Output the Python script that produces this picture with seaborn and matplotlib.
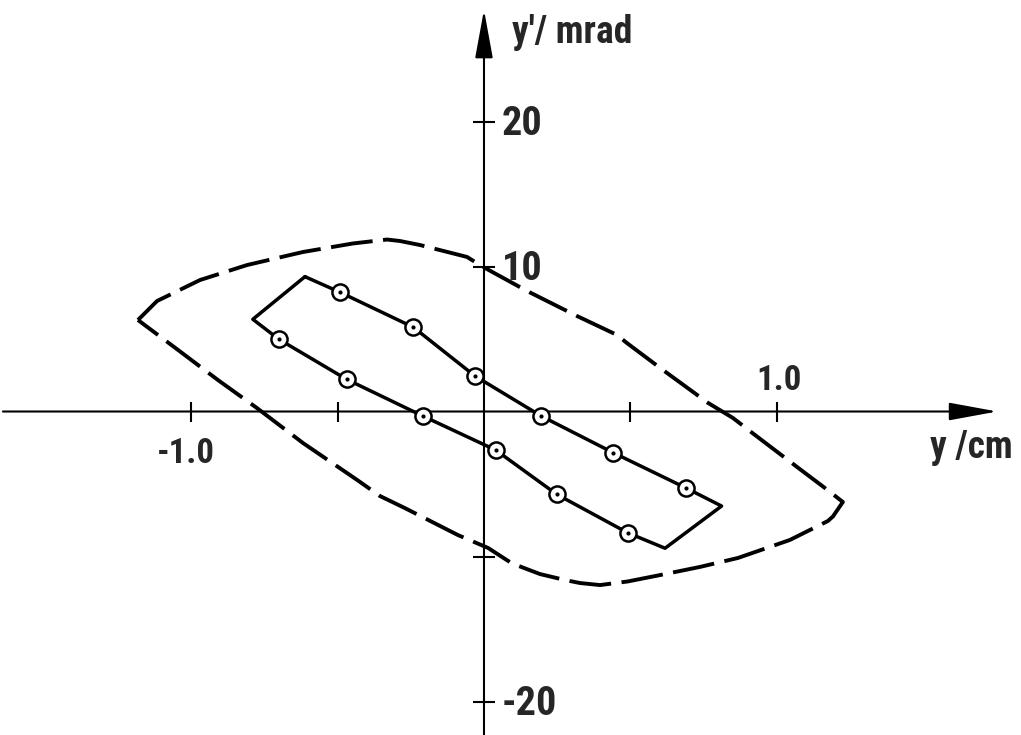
import matplotlib
matplotlib.use("Agg")
import matplotlib.pyplot as plt
from matplotlib import font_manager
import pandas as pd
import seaborn as sns

# Acceptance boundary (dashed closed curve): position y in cm, angle y' in mrad
boundary_y = [-1.181, -1.116, -0.969, -0.809, -0.618, -0.447, -0.331, -0.287,
              -0.218, -0.058, -0.003, 0.147, 0.317, 0.454, 0.488, 0.611,
              0.765, 0.850, 0.925, 1.078, 1.164, 1.225, 1.191, 1.174,
              1.044, 0.867, 0.737, 0.601, 0.491, 0.396, 0.328, 0.276,
              0.191, 0.096, 0.072, 0.014, -0.089, -0.270, -0.355, -0.433,
              -0.618, -0.775, -0.908, -1.044]
boundary_yp = [6.31, 7.62, 9.07, 10.10, 11.00, 11.59, 11.86, 11.76,
               11.48, 10.66, 9.97, 8.31, 6.59, 5.28, 4.72, 2.86,
               0.59, -0.45, -1.62, -3.97, -5.28, -6.24, -7.24, -7.55,
               -8.86, -10.10, -10.72, -11.28, -11.72, -11.97, -11.83, -11.62,
               -11.21, -10.48, -10.17, -9.41, -8.52, -6.66, -5.83, -4.72,
               -2.17, 0.24, 2.17, 4.24]

# Measured beam contour (solid closed curve); 1 marks a measured point
contour_y = [-0.611, -0.491, -0.241, -0.031, 0.195, 0.441, 0.688, 0.811,
             0.618, 0.490, 0.248, 0.040, -0.209, -0.469, -0.700, -0.789]
contour_yp = [9.30, 8.22, 5.81, 2.45, -0.31, -2.84, -5.26, -6.52,
              -9.43, -8.36, -5.71, -2.66, -0.31, 2.22, 4.98, 6.36]
contour_measured = [0, 1, 1, 1, 1, 1, 1, 0,
                    0, 1, 1, 1, 1, 1, 1, 0]

# Axis ticks and their labels (empty string = unlabeled tick)
x_ticks = [-1.0, -0.5, 0.5, 1.0]
x_tick_labels = ["-1.0", "", "", "1.0"]
y_ticks = [-20, -10, 10, 20]
y_tick_labels = ["-20", "", "10", "20"]

x_label = "y /cm"
y_label = "y'/ mrad"

sns.set_theme(style="white")

# Prefer a narrow sans face for the lettering
fonts = font_manager.fontManager.ttflist
installed = {f.name for f in fonts}
stretch = "normal"
if "Liberation Sans Narrow" in installed:
    family = "Liberation Sans Narrow"
elif "Roboto Condensed" in installed:
    family = "Roboto Condensed"
elif any(f.name == "DejaVu Sans" and "condensed" in str(f.stretch) for f in fonts):
    family, stretch = "DejaVu Sans", "condensed"
else:
    family = "Roboto"
plt.rcParams["font.family"] = [family, "DejaVu Sans"]
txt = dict(fontstretch=stretch, fontweight="bold")

fig = plt.figure(figsize=(10.21, 7.35), dpi=100)
ax = fig.add_axes([0, 0, 1, 1])
ax.set_xlim(-1.652, 1.833)
ax.set_ylim(-22.31, 28.38)
ax.axis("off")

# Coordinate axes through the origin, with long slender arrow heads
arrow = dict(arrowstyle="-|>,head_length=3.0,head_width=0.55",
             mutation_scale=10, lw=1.5, color="black", shrinkA=0, shrinkB=0)
ax.annotate("", xy=(1.752, 0), xytext=(-1.642, 0), arrowprops=arrow)
ax.annotate("", xy=(0, 27.7), xytext=(0, -22.31), arrowprops=arrow)

ax.plot(x_ticks, [0] * len(x_ticks), ls="none", marker="|", ms=14.5,
        mew=1.5, color="black")
ax.plot([0] * len(y_ticks), y_ticks, ls="none", marker="_", ms=16,
        mew=1.5, color="black")

# Dashed acceptance boundary
bd = pd.DataFrame({"y": boundary_y + boundary_y[:1],
                   "yp": boundary_yp + boundary_yp[:1]})
sns.lineplot(data=bd, x="y", y="yp", sort=False, estimator=None, ax=ax,
             color="black", lw=2.8, linestyle=(0, (10.8, 2.7)))

# Solid measured contour
ct = pd.DataFrame({"y": contour_y + contour_y[:1],
                   "yp": contour_yp + contour_yp[:1]})
sns.lineplot(data=ct, x="y", y="yp", sort=False, estimator=None, ax=ax,
             color="black", lw=2.5, solid_joinstyle="round")

# Measured points: open circle with a center dot
pts = pd.DataFrame({"y": contour_y, "yp": contour_yp,
                    "m": contour_measured})
pts = pts[pts["m"] == 1]
sns.scatterplot(data=pts, x="y", y="yp", ax=ax, s=135, color="white",
                edgecolor="black", linewidth=1.8, zorder=3)
sns.scatterplot(data=pts, x="y", y="yp", ax=ax, s=9, color="black",
                linewidth=0, zorder=4)

# Tick labels
for xv, lab in zip(x_ticks, x_tick_labels):
    if not lab:
        continue
    if xv > 0:
        ax.annotate(lab, xy=(xv, 0), xytext=(1.5, 15.5), textcoords="offset points",
                    ha="center", va="baseline", fontsize=25, **txt)
    else:
        ax.annotate(lab, xy=(xv, 0), xytext=(-4, -37), textcoords="offset points",
                    ha="center", va="baseline", fontsize=25, **txt)
for yv, lab in zip(y_ticks, y_tick_labels):
    if lab:
        ax.annotate(lab, xy=(0, yv), xytext=(13, -10), textcoords="offset points",
                    ha="left", va="baseline", fontsize=29, **txt)

# Axis labels
ax.text(1.805, -3.21, x_label, ha="right", va="baseline", fontsize=27, **txt)
ax.text(0.0956, 25.41, y_label, ha="left", va="baseline", fontsize=27, **txt)

ax.set_xlabel("")
ax.set_ylabel("")
fig.savefig("out.png", dpi=100)
